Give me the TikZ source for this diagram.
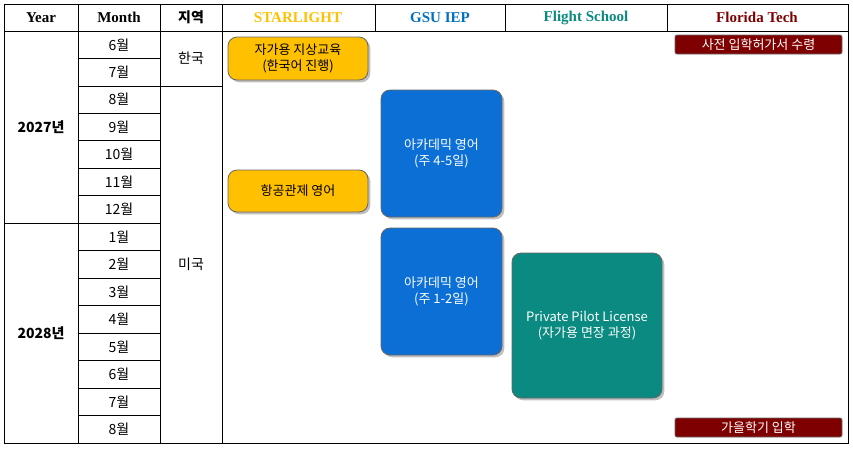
\documentclass[tikz,border=0pt]{standalone}
\usepackage{fontspec}
\setmainfont{Liberation Serif}
\newfontfamily\kr{Noto Sans CJK KR}
\usetikzlibrary{shadows}
\definecolor{starGold}{HTML}{FFC000}
\definecolor{gsuBlue}{HTML}{0070C0}
\definecolor{boxBlue}{HTML}{0B6FD6}
\definecolor{flightTeal}{HTML}{0A8A80}
\definecolor{fitRed}{HTML}{7F0000}
\begin{document}
\begin{tikzpicture}[x=1pt,y=-1pt,thick,
  head/.style={font=\bfseries\fontsize{15}{17}\selectfont},
  cell/.style={font=\kr\fontsize{14}{16}\selectfont},
  plan/.style={draw=black!60,rounded corners=9pt,align=center,drop shadow,
    font=\kr\fontsize{13}{16}\selectfont,inner sep=0pt},
  bar/.style={fill=fitRed,draw=black!60,rounded corners=2pt,text=white,
    font=\kr\fontsize{13}{14}\selectfont,inner sep=0pt}]

  \useasboundingbox (0,0) rectangle (853,448);

  % table frame
  \draw (4,4) rectangle (848,443);
  \draw (4,31) -- (848,31);
  \foreach \x in {78,160,222} \draw (\x,4) -- (\x,443);
  \foreach \x in {375,505,667} \draw (\x,4) -- (\x,31);
  \foreach \i in {1,...,14} \draw (78,31+\i*27.47) -- (160,31+\i*27.47);
  \draw (4,223.3) -- (78,223.3);
  \draw (160,85.9) -- (222,85.9);

  % header
  \node[head] (hyear) at (41,17.5) {Year};
  \node[head] (hmonth) at (119,17.5) {Month};
  \node[cell,font=\kr\bfseries\fontsize{14}{16}\selectfont] (hzone) at (191,17.5) {지역};
  \node[head,text=starGold] (hstar) at (298,17.5) {STARLIGHT};
  \node[head,text=gsuBlue] (hgsu) at (440,17.5) {GSU IEP};
  \node[head,text=flightTeal] (hflight) at (586,17.5) {Flight School};
  \node[head,text=fitRed] (hfit) at (757,17.5) {Florida Tech};

  % months
  \foreach \m [count=\i from 0] in {6,7,8,9,10,11,12,1,2,3,4,5,6,7,8}
    \node[cell] (m\i) at (119,31+13.7+\i*27.47) {{\m}월};
  \node[cell,font=\kr\bfseries\fontsize{14}{16}\selectfont] (y2027) at (41,127) {2027년};
  \node[cell,font=\kr\bfseries\fontsize{14}{16}\selectfont] (y2028) at (41,333) {2028년};
  \node[cell] (korea) at (191,58.5) {한국};
  \node[cell] (usa) at (191,264.5) {미국};

  % programs
  \node[plan,fill=starGold,minimum width=140pt,minimum height=43pt] (ground) at (298,58.5) {자가용 지상교육\\(한국어 진행)};
  \node[plan,fill=starGold,minimum width=140pt,minimum height=42pt] (atc) at (298,191) {항공관제 영어};
  \node[plan,fill=boxBlue,text=white,minimum width=121pt,minimum height=127pt] (acad1) at (441.5,153.5) {아카데믹 영어\\(주 4-5일)};
  \node[plan,fill=boxBlue,text=white,minimum width=121pt,minimum height=127pt] (acad2) at (441.5,291.5) {아카데믹 영어\\(주 1-2일)};
  \node[plan,fill=flightTeal,text=white,minimum width=150pt,minimum height=145pt] (ppl) at (587,325.5) {Private Pilot License\\(자가용 면장 과정)};
  \node[bar,minimum width=167pt,minimum height=19pt] (admit) at (758.5,44.5) {사전 입학허가서 수령};
  \node[bar,minimum width=167pt,minimum height=19pt] (fall) at (758.5,427.5) {가을학기 입학};
\end{tikzpicture}
\end{document}
